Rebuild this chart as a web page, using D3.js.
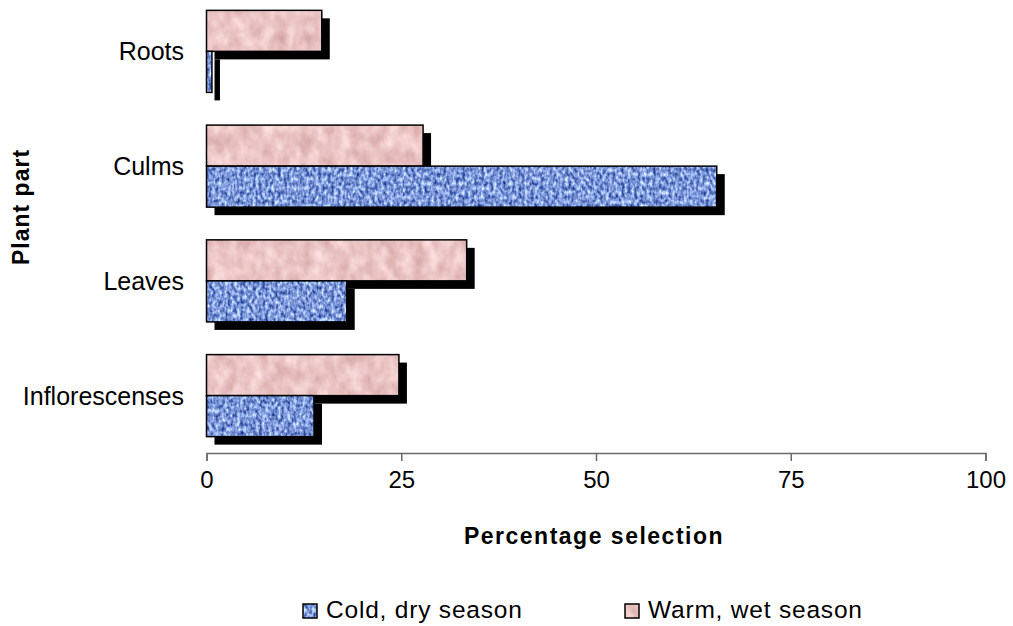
<!DOCTYPE html>
<html>
<head>
<meta charset="utf-8">
<script src="https://cdn.jsdelivr.net/npm/d3@7"></script>
<style>
  body { margin: 0; background: #fff; }
  svg { display: block; font-family: "Liberation Sans", Arial, sans-serif; }
</style>
</head>
<body>
<svg id="chart"></svg>
<script>
// data
const categories = ["Roots", "Culms", "Leaves", "Inflorescenses"];
const seriesNames = ["Warm, wet season", "Cold, dry season"];
const warmWet = [14.8, 27.8, 33.4, 24.7];
const coldDry = [0.7, 65.5, 18.0, 13.8];
const xTicks = [0, 25, 50, 75, 100];

const width = 1013;
const height = 626;
const svg = d3.select("#chart").attr("width", width).attr("height", height);

// textures (pink marble / blue weave) via turbulence filters inside patterns
const defs = svg.append("defs");

function addTexture(id, freq, octaves, rows) {
    const f = defs.append("filter")
        .attr("id", id + "-f")
        .attr("filterUnits", "userSpaceOnUse")
        .attr("color-interpolation-filters", "sRGB")
        .attr("x", 0).attr("y", 0).attr("width", width).attr("height", height);
    f.append("feTurbulence")
        .attr("type", "fractalNoise")
        .attr("baseFrequency", freq)
        .attr("numOctaves", octaves)
        .attr("seed", 3);
    f.append("feColorMatrix")
        .attr("type", "matrix")
        .attr("values", rows.join(" ") + " 0 0 0 0 1");
    const p = defs.append("pattern")
        .attr("id", id)
        .attr("patternUnits", "userSpaceOnUse")
        .attr("width", width).attr("height", height);
    p.append("rect")
        .attr("width", width).attr("height", height)
        .attr("filter", `url(#${id}-f)`);
}

addTexture("tex-blue", "0.32 0.22", 2, [
    "1.2 0 0 0 -0.11",
    "1.15 0 0 0 0.02",
    "0.9 0 0 0 0.40"
]);
addTexture("tex-pink", "0.08 0.06", 3, [
    "0.2 0 0 0 0.82",
    "0.3 0 0 0 0.62",
    "0.3 0 0 0 0.62"
]);

const fills = { "Warm, wet season": "url(#tex-pink)", "Cold, dry season": "url(#tex-blue)" };

const x = d3.scaleLinear().domain([0, 100]).range([206.5, 985.5]);
const y = d3.scaleBand().domain(categories).range([-6, 453])
    .paddingInner(0.285).paddingOuter(0.1425);
const ySub = d3.scaleBand().domain(seriesNames).range([0, y.bandwidth()]);

const rows = [];
categories.forEach((c, i) => {
    rows.push({ cat: c, series: "Warm, wet season", value: warmWet[i] });
    rows.push({ cat: c, series: "Cold, dry season", value: coldDry[i] });
});

// shadows first, then bars
svg.selectAll(".shadow")
    .data(rows)
    .enter()
    .append("rect")
    .attr("class", "shadow")
    .attr("x", d => x(0) + 8)
    .attr("y", d => y(d.cat) + ySub(d.series) + 8)
    .attr("width", d => x(d.value) - x(0))
    .attr("height", ySub.bandwidth())
    .attr("fill", "#000");

svg.selectAll(".bar")
    .data(rows)
    .enter()
    .append("rect")
    .attr("class", "bar")
    .attr("x", d => x(0))
    .attr("y", d => y(d.cat) + ySub(d.series))
    .attr("width", d => x(d.value) - x(0))
    .attr("height", ySub.bandwidth())
    .attr("fill", d => fills[d.series])
    .attr("stroke", "#000")
    .attr("stroke-width", 1.5);

// x axis
const xAxis = svg.append("g")
    .attr("transform", "translate(0,453)")
    .call(d3.axisBottom(x).tickValues(xTicks).tickSize(8).tickPadding(10));
xAxis.select(".domain").attr("stroke", "#6b6b6b").attr("stroke-width", 1.5);
xAxis.selectAll(".tick line").attr("stroke", "#6b6b6b").attr("stroke-width", 1.5);
xAxis.selectAll(".tick text")
    .attr("font-size", 24)
    .attr("font-family", "Liberation Sans, Arial, sans-serif")
    .attr("fill", "#000");

// category labels
svg.selectAll(".cat")
    .data(categories)
    .enter()
    .append("text")
    .attr("class", "cat")
    .attr("x", 184)
    .attr("y", d => y(d) + y.bandwidth() / 2 + 9)
    .attr("text-anchor", "end")
    .attr("font-size", 25)
    .text(d => d);

// axis titles
svg.append("text")
    .attr("x", 594)
    .attr("y", 544)
    .attr("text-anchor", "middle")
    .attr("font-size", 23)
    .attr("font-weight", "bold")
    .attr("letter-spacing", 1.5)
    .text("Percentage selection");

svg.append("text")
    .attr("transform", "translate(29,207) rotate(-90)")
    .attr("text-anchor", "middle")
    .attr("font-size", 23)
    .attr("font-weight", "bold")
    .attr("letter-spacing", 1)
    .text("Plant part");

// legend
const legendItems = [
    { name: "Cold, dry season", x: 303 },
    { name: "Warm, wet season", x: 625 }
];
const lg = svg.selectAll(".legend")
    .data(legendItems)
    .enter()
    .append("g")
    .attr("class", "legend")
    .attr("transform", d => `translate(${d.x},604)`);
lg.append("rect")
    .attr("width", 14)
    .attr("height", 14)
    .attr("fill", d => fills[d.name])
    .attr("stroke", "#000")
    .attr("stroke-width", 1.5);
lg.append("text")
    .attr("x", 23)
    .attr("y", 14)
    .attr("font-size", 24.5)
    .attr("letter-spacing", 0.8)
    .text(d => d.name);
</script>
</body>
</html>
